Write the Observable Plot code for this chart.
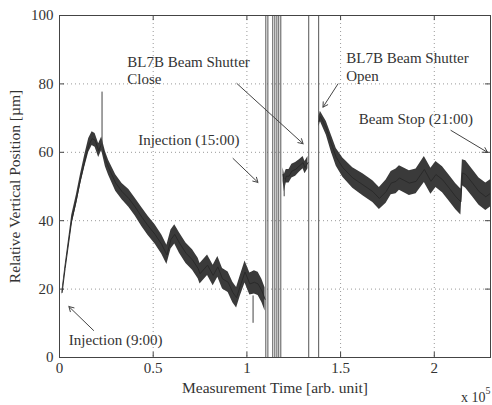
<!DOCTYPE html>
<html>
<head>
<meta charset="utf-8">
<script src="https://cdn.jsdelivr.net/npm/d3@7"></script>
<script src="https://cdn.jsdelivr.net/npm/@observablehq/plot@0.6"></script>
<style>
  html, body { margin: 0; padding: 0; background: #fff; }
  #chart { width: 492px; height: 405px; }
  #chart svg, #chart svg text { font-family: "Liberation Serif", "Times New Roman", Times, serif !important; }
</style>
</head>
<body>
<div id="chart"></div>
<script>
// ---- Data. Time in units of 1e5, value in µm, band half-width in µm ----
const segment1 = [
  [0.014, 19, 0.8], [0.03, 26, 1], [0.055, 36, 1.2], [0.065, 40, 1.5], [0.09, 46, 1.5],
  [0.112, 52, 1.5], [0.135, 57.5, 1.8], [0.156, 62, 2], [0.174, 64, 2], [0.19, 63.5, 2],
  [0.209, 60.5, 2], [0.225, 62.5, 2], [0.245, 58, 2.2], [0.262, 55.5, 2.2], [0.30, 51, 2.4],
  [0.334, 48.5, 2.4], [0.37, 46.5, 2.6], [0.404, 44, 2.6], [0.44, 41, 2.8], [0.473, 38.5, 2.8],
  [0.51, 36, 2.8], [0.546, 33, 2.8], [0.573, 30, 2.8], [0.595, 34.5, 2.8], [0.615, 36, 2.8],
  [0.64, 33.5, 3], [0.675, 30.5, 3], [0.71, 28.5, 3], [0.74, 26, 3], [0.75, 24.5, 3],
  [0.79, 27, 3], [0.82, 24, 3], [0.845, 26.5, 3], [0.87, 23, 3], [0.90, 22, 3],
  [0.925, 19, 3], [0.945, 17.5, 3], [0.965, 21, 3], [0.99, 25, 3.2], [1.016, 21.5, 3.2],
  [1.04, 22, 3.4], [1.06, 21.5, 3.4], [1.08, 19.5, 3.4], [1.097, 17, 3.4]
];
const segment2 = [
  [1.193, 53.5, 2], [1.20, 51, 2.5], [1.21, 53, 2], [1.225, 53, 2], [1.24, 54.5, 2],
  [1.26, 55, 2], [1.28, 56, 1.8], [1.30, 57, 1.8], [1.31, 55.5, 1.8], [1.326, 57, 1.8]
];
const segment3 = [
  [1.385, 69, 1.5], [1.392, 70.5, 1.5], [1.424, 67, 2], [1.451, 62.5, 2.5], [1.477, 58.5, 2.6],
  [1.512, 55.5, 2.8], [1.565, 52.5, 3], [1.619, 50.5, 3.2], [1.672, 48.5, 3.2], [1.707, 46.5, 3.2],
  [1.743, 48.5, 3.4], [1.77, 51, 3.4], [1.796, 51.5, 3.6], [1.814, 52.5, 3.6], [1.867, 51, 3.6],
  [1.903, 51.5, 3.6], [1.947, 55, 3.8], [1.982, 51.5, 3.8], [2.009, 53.5, 3.8], [2.044, 52, 3.8],
  [2.08, 49.5, 3.8], [2.115, 47, 3.8], [2.142, 45.5, 3.8], [2.150, 54, 3.8], [2.168, 53.5, 4],
  [2.204, 51, 4], [2.239, 48.5, 4], [2.275, 47, 4], [2.30, 48, 4]
];
// narrow spikes within the signal: [time, from, to]
const spikes = [[0.227, 60, 77.6], [1.033, 18, 10], [1.199, 52, 47]];
// full-height vertical transients (signal saturating 0..100)
const transientTimes = [1.101, 1.112, 1.138, 1.149, 1.160, 1.170, 1.181, 1.330, 1.383];

const xTicks = [0, 0.5, 1, 1.5, 2];
const xTickLabels = ["0", "0.5", "1", "1.5", "2"];
const yTicks = [0, 20, 40, 60, 80, 100];
const xDomain = [0, 2.3];
const yDomain = [0, 100];

const xTitle = "Measurement Time [arb. unit]";
const yTitle = "Relative Vertical Position [µm]";

// annotations: text, time (1e5), value
const notes = [
  {text: "BL7B Beam Shutter\nClose", x: 0.362, y: 84.1},
  {text: "BL7B Beam Shutter\nOpen", x: 1.530, y: 85.1},
  {text: "Injection (15:00)", x: 0.420, y: 63.7},
  {text: "Beam Stop (21:00)", x: 1.597, y: 69.8},
  {text: "Injection (9:00)", x: 0.050, y: 5.2}
];
const arrows = [
  {x1: 0.926, y1: 58.2, x2: 1.059, y2: 51.2},
  {x1: 0.947, y1: 80.1, x2: 1.300, y2: 62.5},
  {x1: 1.486, y1: 80.0, x2: 1.406, y2: 73.2},
  {x1: 2.089, y1: 66.4, x2: 2.284, y2: 60.0},
  {x1: 0.182, y1: 7.9, x2: 0.050, y2: 14.9}
];

// ---- Build table ----
const band = [];
[segment1, segment2, segment3].forEach((seg, s) => {
  seg.forEach(([t, v, hw]) => band.push({seg: s, t, v, lo: v - hw, hi: v + hw}));
});

const serif = "'Liberation Serif', 'Times New Roman', Times, serif";
const ink = "#333";

const chart = Plot.plot({
  width: 492,
  height: 405,
  marginLeft: 59,
  marginRight: 2,
  marginTop: 15,
  marginBottom: 48,
  style: {fontFamily: serif, fontSize: "15px", color: ink, background: "#fff"},
  x: {domain: xDomain},
  y: {domain: yDomain},
  marks: [
    Plot.ruleX(xTicks.slice(1), {stroke: "#999", strokeDasharray: "1,3", strokeWidth: 1}),
    Plot.ruleY(yTicks.slice(1, -1), {stroke: "#999", strokeDasharray: "1,3", strokeWidth: 1}),
    Plot.ruleX(transientTimes, {stroke: "#555", strokeWidth: 1}),
    Plot.areaY(band, {x: "t", y1: "lo", y2: "hi", z: "seg", fill: "#3a3a3a", curve: "linear"}),
    Plot.line(band, {x: "t", y: "v", z: "seg", stroke: "#2a2a2a", strokeWidth: 1}),
    Plot.ruleX(spikes, {x: d => d[0], y1: d => d[1], y2: d => d[2], stroke: "#444", strokeWidth: 1}),
    Plot.ruleX(xTicks, {y1: 0, y2: 1.5, stroke: "#444"}),
    Plot.ruleX(xTicks, {y1: 98.5, y2: 100, stroke: "#444"}),
    Plot.ruleY(yTicks, {x1: 0, x2: 0.027, stroke: "#444"}),
    Plot.ruleY(yTicks, {x1: 2.273, x2: 2.3, stroke: "#444"}),
    Plot.frame({stroke: "#444", strokeWidth: 1}),
    Plot.axisX(xTicks, {tickSize: 0, tickPadding: 5, fontSize: 15, fill: ink,
      tickFormat: d => xTickLabels[xTicks.indexOf(d)], label: null}),
    Plot.axisY(yTicks, {tickSize: 0, tickPadding: 6, fontSize: 15, fill: ink, label: null}),
    Plot.text([xTitle], {frameAnchor: "bottom", dy: 31, textAnchor: "middle", lineAnchor: "middle", fontSize: 15.5, fill: ink}),
    Plot.text([yTitle], {frameAnchor: "left", dx: -44, rotate: -90, textAnchor: "middle", lineAnchor: "middle", fontSize: 15.5, fill: ink}),
    Plot.text(["x 10"], {frameAnchor: "bottom-right", dx: -5, dy: 40, textAnchor: "end", lineAnchor: "middle", fontSize: 14, fill: ink}),
    Plot.text(["5"], {frameAnchor: "bottom-right", dx: 0, dy: 33, textAnchor: "end", lineAnchor: "middle", fontSize: 10, fill: ink}),
    Plot.arrow(arrows, {x1: "x1", y1: "y1", x2: "x2", y2: "y2", stroke: "#444", strokeWidth: 1, headLength: 8, bend: 0, inset: 0}),
    Plot.text(notes, {x: "x", y: "y", text: "text", textAnchor: "start", lineAnchor: "middle", lineHeight: 1.15, fontSize: 15, fill: ink})
  ]
});
document.getElementById("chart").appendChild(chart);
</script>
</body>
</html>
